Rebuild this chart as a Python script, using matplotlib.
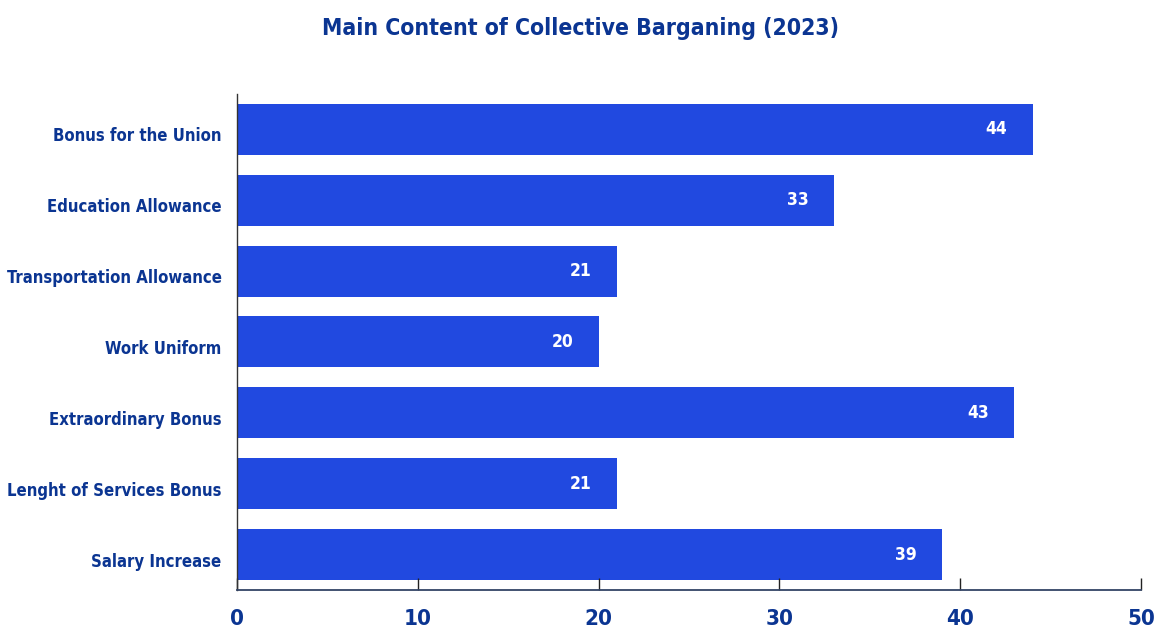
import matplotlib.pyplot as plt
from matplotlib.transforms import ScaledTranslation

plt.rcParams['font.family'] = ['DejaVu Sans']
plt.rcParams['font.stretch'] = 'condensed'

categories = ["Bonus for the Union", "Education Allowance", "Transportation Allowance",
              "Work Uniform", "Extraordinary Bonus", "Lenght of Services Bonus",
              "Salary Increase"]
values = [44, 33, 21, 20, 43, 21, 39]
xticks = [0, 10, 20, 30, 40, 50]

bar_color = "#2149E0"
text_color = "#0B3592"

fig = plt.figure(figsize=(11.61, 6.32), dpi=100)
ax = fig.add_axes([0.2041, 0.0665, 0.7787, 0.7848])

pos = list(range(len(categories)))[::-1]
bars = ax.barh(pos, values, height=0.72, color=bar_color)

for p, v in zip(pos, values):
    ax.annotate(str(v), (v, p), xytext=(-18, 0), textcoords="offset points",
                ha="right", va="center", color="white", fontsize=12.5, fontweight="bold")

ax.set_yticks(pos)
ax.set_yticklabels(categories, fontsize=12, fontweight="bold", color=text_color)
ax.set_xticks(xticks)
ax.set_xticklabels([str(t) for t in xticks], fontsize=16, fontweight="bold", color=text_color)
ax.set_xlim(0, 50)
ax.set_ylim(-0.5, 6.5)

ax.tick_params(axis="y", length=0, pad=11)
ax.tick_params(axis="x", direction="in", length=9, width=1, color="#222222", pad=14)

# labels sit a little below the bar centres in the original
shift = ScaledTranslation(0, -5 / 100, fig.dpi_scale_trans)
for lab in ax.get_yticklabels():
    lab.set_transform(lab.get_transform() + shift)

for s in ["top", "right"]:
    ax.spines[s].set_visible(False)
ax.spines["left"].set_color("#333333")
ax.spines["bottom"].set_color("#334466")
ax.spines["left"].set_linewidth(1)
ax.spines["bottom"].set_linewidth(1.3)

fig.text(0.5, 0.955, "Main Content of Collective Barganing (2023)", ha="center", va="center",
         fontsize=16.5, fontweight="bold", color=text_color)

fig.savefig("out.png", dpi=100)
